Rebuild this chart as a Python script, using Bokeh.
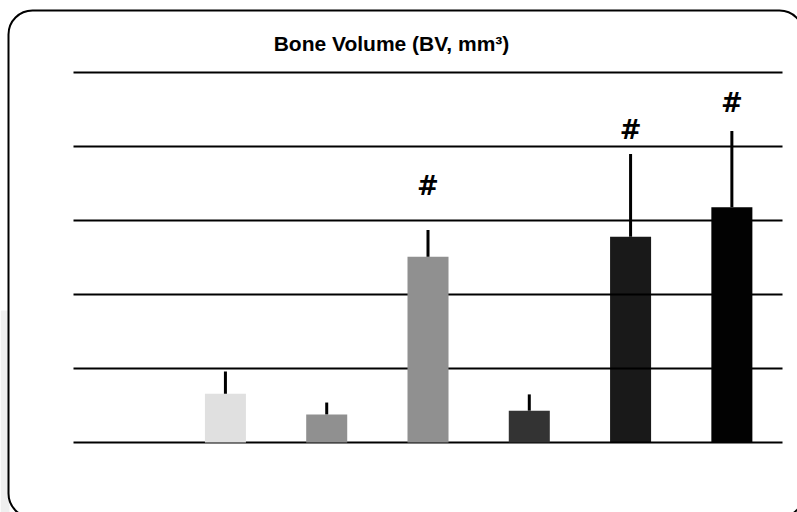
import math

from bokeh.core.properties import value
from bokeh.embed import file_html
from bokeh.models import BoxAnnotation, ColumnDataSource, Range1d
from bokeh.plotting import figure
from bokeh.resources import INLINE

# Bone volume per group (first group has no measurement)
groups = ["G1", "G2", "G3", "G4", "G5", "G6", "G7"]
bv_mean = [math.nan, 0.66, 0.38, 2.51, 0.43, 2.78, 3.18]
bv_sd = [math.nan, 0.30, 0.16, 0.36, 0.22, 1.12, 1.03]
sig_mark = ["", "", "", "#", "", "#", "#"]
sig_level = [math.nan, math.nan, math.nan, 3.47, math.nan, 4.22, 4.59]
grid_levels = [0, 1, 2, 3, 4, 5]

bar_colors = ["#ffffff", "#e0e0e0", "#909090", "#909090", "#333333", "#000000", "#020202"]
bar_alpha = [0, 1, 1, 1, 1, 0.9, 1]

W, H = 797, 512

# pixel <-> data mapping for the full-canvas frame
X_LEFT, X_RIGHT = -0.2207, 7.648
Y_BOTTOM, Y_TOP = -0.946, 5.973


def px_x(px):
    return X_LEFT + px * (X_RIGHT - X_LEFT) / W


def px_y(py):
    return Y_TOP - py * (Y_TOP - Y_BOTTOM) / H


p = figure(width=W, height=H, output_backend="svg", toolbar_location=None,
           x_axis_location=None, y_axis_location=None,
           x_range=Range1d(X_LEFT, X_RIGHT), y_range=Range1d(Y_BOTTOM, Y_TOP),
           min_border=0)
p.outline_line_color = None
p.xgrid.visible = False
p.ygrid.visible = False
p.background_fill_color = "white"
p.border_fill_color = "white"

# faint grey strip at the left margin
p.quad(left=[px_x(0)], right=[px_x(9)], top=[px_y(310)], bottom=[px_y(H + 2)],
       fill_color="#efefef", line_color=None)

slots = list(range(1, len(groups) + 1))

# horizontal gridlines
p.segment(x0=[0.5] * len(grid_levels), x1=[len(groups) + 0.5] * len(grid_levels),
          y0=grid_levels, y1=grid_levels, line_color="#000000", line_width=2)

src = ColumnDataSource(dict(
    x=slots, top=bv_mean,
    err=[m + s for m, s in zip(bv_mean, bv_sd)],
    color=bar_colors, alpha=bar_alpha,
    mark=sig_mark, mark_y=sig_level,
))

p.vbar(x="x", top="top", bottom=0, width=0.405, source=src,
       fill_color="color", fill_alpha="alpha", line_color=None)

# upper error bars
p.segment(x0="x", x1="x", y0="top", y1="err", source=src,
          line_color="#000000", line_width=3)

# significance marks
p.text(x="x", y="mark_y", text="mark", source=src,
       text_font=value("DejaVu Sans"), text_font_style="bold",
       text_font_size="26px", text_align="center", text_baseline="middle",
       text_color="#000000")

# chart title
p.text(x=[px_x(391)], y=[px_y(43)], text=["Bone Volume (BV, mm³)"],
       text_font=value("Liberation Sans"), text_font_style="bold",
       text_font_size="21px", text_align="center", text_baseline="middle",
       text_color="#000000")

# rounded frame around the chart
p.add_layout(BoxAnnotation(left=px_x(8), right=px_x(803), top=px_y(10), bottom=px_y(517),
                           fill_alpha=0, line_color="#000000", line_alpha=1,
                           line_width=2, border_radius=24))

open("out.html", "w").write(file_html(p, INLINE))
